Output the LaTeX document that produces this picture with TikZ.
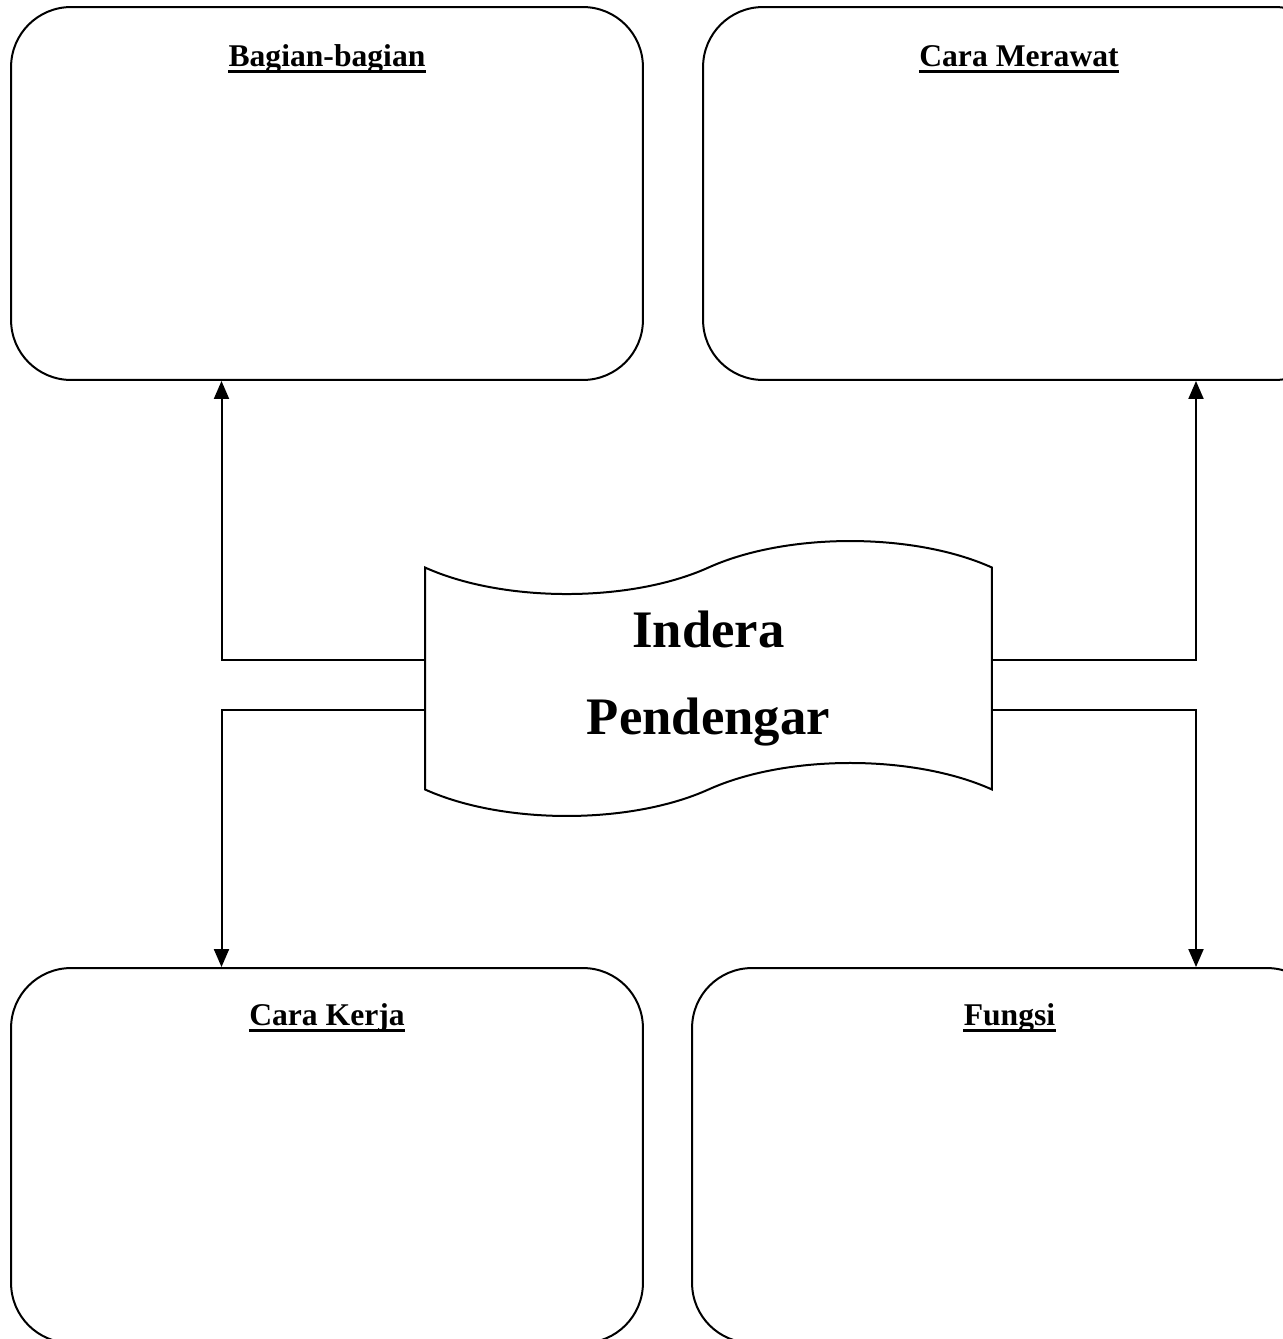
\documentclass[tikz,border=0pt]{standalone}
\usepackage{fontspec}
\setmainfont{Liberation Serif}
\usetikzlibrary{calc}
\usetikzlibrary{positioning}
\usetikzlibrary{shapes.symbols}
\usetikzlibrary{arrows.meta}
\tikzset{
  kotak/.style={draw, line width=0.04cm, rounded corners=1.2cm,
    minimum width=12.64cm, minimum height=7.46cm},
  judul/.style={inner sep=0pt, anchor=base, font=\fontsize{18}{22}\selectfont\bfseries},
  garisbawah/.style={line width=0.06cm},
  pita/.style={draw, line width=0.04cm, tape, tape bend top=in and out,
    tape bend bottom=in and out, tape bend height=1.06cm,
    minimum width=11.34cm, minimum height=5.5cm, align=center,
    font=\fontsize{30}{50}\selectfont\bfseries},
  panah/.style={line width=0.04cm, -{Triangle[length=0.36cm, width=0.3cm]}}
}

\begin{document}
\begin{tikzpicture}[x=0.02cm, y=-0.02cm]
  \useasboundingbox (0,0) rectangle (1282,1339);

  \node [kotak] (bag) at (327,193.5) {};
  \node [kotak] (rawat) at (1019,193.5) {};
  \node [kotak, minimum height=7.5cm] (kerja) at (327,1155.5) {};
  \node [kotak, minimum height=7.5cm, minimum width=12.7cm] (fungsi) at (1009.5,1155.5) {};

  \node [judul] (tbag) at ([yshift=-1.2cm]bag.north) {Bagian-bagian};
  \node [judul] (trawat) at ([yshift=-1.2cm]rawat.north) {Cara Merawat};
  \node [judul] (tkerja) at ([yshift=-1.17cm]kerja.north) {Cara Kerja};
  \node [judul] (tfungsi) at ([yshift=-1.17cm]fungsi.north) {Fungsi};
  \foreach \t in {tbag, trawat, tkerja, tfungsi}
    \draw [garisbawah] ([yshift=-0.1cm]\t.base west) -- ([yshift=-0.1cm]\t.base east);

  \node [pita] (pusat) at (708.5,678.5) {Indera\\Pendengar};

  \coordinate (kiri) at (221.5,0);
  \coordinate (kanan) at (1196,0);
  \coordinate (atas) at (0,659.5);
  \coordinate (bawah) at (0,709.5);

  \draw [panah] (pusat.west |- atas) -| (bag.south -| kiri);
  \draw [panah] (pusat.east |- atas) -| (rawat.south -| kanan);
  \draw [panah] (pusat.west |- bawah) -| (kerja.north -| kiri);
  \draw [panah] (pusat.east |- bawah) -| (fungsi.north -| kanan);
\end{tikzpicture}
\end{document}
